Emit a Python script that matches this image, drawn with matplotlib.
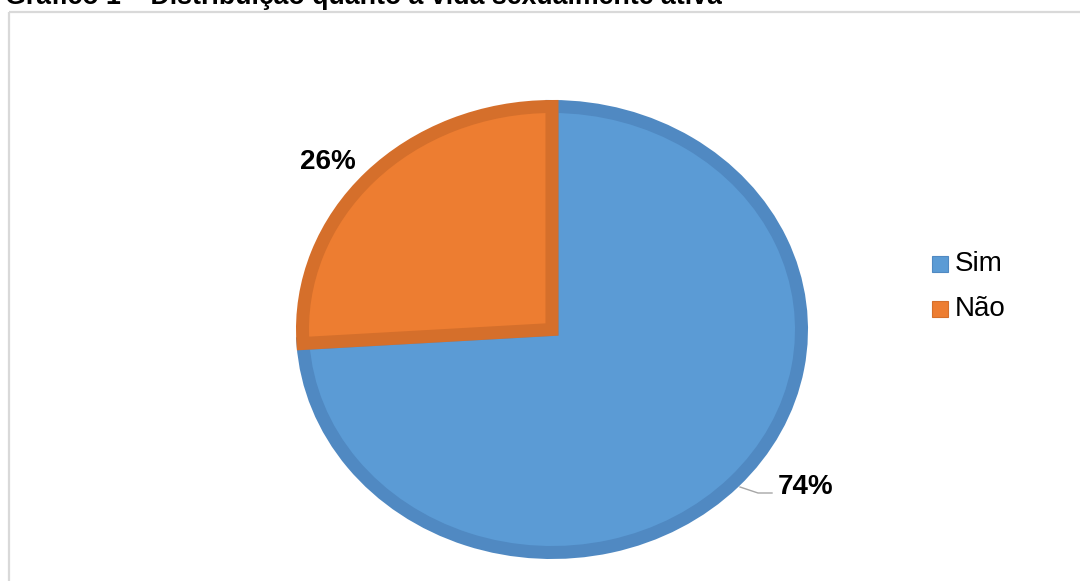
# Grafico de pizza - vida sexualmente ativa
import matplotlib.pyplot as plt
from matplotlib.patches import Rectangle

# dados
categorias = ['Sim', 'Não']
valores = [74, 26]
rotulos = ['74%', '26%']
cores = ['#5B9BD5', '#ED7D31']
cores_borda = ['#5089C2', '#D56F2B']
titulo = 'Gráfico 1 – Distribuição quanto à vida sexualmente ativa'

plt.rcParams['font.family'] = ['Liberation Sans', 'DejaVu Sans']

W, H = 1080, 581
fig = plt.figure(figsize=(W / 100, H / 100), dpi=100)

# camada de fundo em pixels (moldura, titulo, legenda, rotulos)
bg = fig.add_axes([0, 0, 1, 1])
bg.set_xlim(0, W)
bg.set_ylim(H, 0)
bg.axis('off')

bg.add_patch(Rectangle((9, 12), 1090, 620, fill=False, edgecolor='#D9D9D9', lw=1.6))
bg.text(5, 4.5, titulo, fontsize=19.3, fontweight='bold', ha='left', va='baseline')

# pizza (eliptica) - borda centrada, por isso a caixa e recuada meia largura
lw_px = 13
x0, x1, y0, y1 = 296 + lw_px / 2, 808 - lw_px / 2, 100 + lw_px / 2, 559 - lw_px / 2
ax = fig.add_axes([x0 / W, 1 - y1 / H, (x1 - x0) / W, (y1 - y0) / H])
wedges, _ = ax.pie(valores, colors=cores, startangle=90, counterclock=False,
                   radius=1, wedgeprops=dict(linewidth=lw_px * 0.72))
for w, c in zip(wedges, cores_borda):
    w.set_edgecolor(c)
ax.set_aspect('auto')
ax.set_xlim(-1, 1)
ax.set_ylim(-1, 1)
ax.axis('off')

# rotulos de dados
bg.text(806, 487, rotulos[0], fontsize=20, fontweight='bold', ha='center', va='center')
bg.text(328, 162, rotulos[1], fontsize=20, fontweight='bold', ha='center', va='center')
bg.plot([740, 758, 772], [487, 493, 493], color='#A6A6A6', lw=1)

# legenda
for i, (cat, c, cb) in enumerate(zip(categorias, cores, cores_borda)):
    y = 264 + i * 45
    bg.add_patch(Rectangle((932, y - 8), 16, 16, facecolor=c, edgecolor=cb, lw=0.8))
    bg.text(955, y, cat, fontsize=20, ha='left', va='center')

fig.savefig('out.png', dpi=100)
